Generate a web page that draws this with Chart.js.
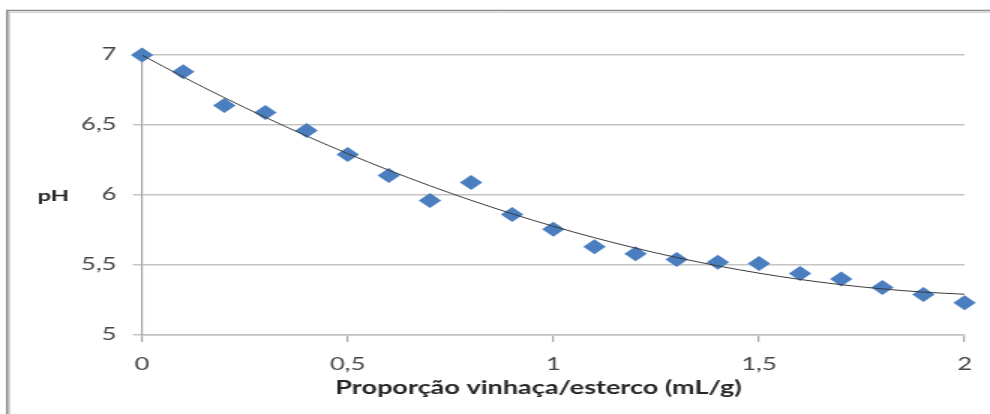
<!DOCTYPE html>
<html>
<head>
<meta charset="utf-8">
<script src="https://cdn.jsdelivr.net/npm/chart.js@4/dist/chart.umd.min.js"></script>
<style>
  html, body { margin: 0; padding: 0; background: #fff; overflow: hidden; }
  #wrap { position: absolute; left: 0; top: 0; width: 660px; height: 414px; transform: scaleX(1.5); transform-origin: 0 0; }
</style>
</head>
<body>
<div id="wrap"><canvas id="c"></canvas></div>
<script>
// ---- data ----
const xValues = [0, 0.1, 0.2, 0.3, 0.4, 0.5, 0.6, 0.7, 0.8, 0.9, 1.0, 1.1, 1.2, 1.3, 1.4, 1.5, 1.6, 1.7, 1.8, 1.9, 2.0];
const phValues = [7.00, 6.88, 6.64, 6.59, 6.46, 6.29, 6.14, 5.96, 6.09, 5.86, 5.755, 5.63, 5.58, 5.54, 5.52, 5.51, 5.44, 5.40, 5.34, 5.29, 5.23];
const yTickLabels = ['5', '5,5', '6', '6,5', '7'];
const xTickLabels = ['0', '0,5', '1', '1,5', '2'];
const yTitle = 'pH';
const xTitle = 'Proporção vinhaça/esterco (mL/g)';

// second-order polynomial trendline (least squares) from the data
function quadFit(xs, ys) {
  let S = [0,0,0,0,0], T = [0,0,0];
  for (let i = 0; i < xs.length; i++) {
    let p = 1;
    for (let k = 0; k < 5; k++) { S[k] += p; if (k < 3) T[k] += p * ys[i]; p *= xs[i]; }
  }
  const A = [[S[0],S[1],S[2],T[0]],[S[1],S[2],S[3],T[1]],[S[2],S[3],S[4],T[2]]];
  for (let i = 0; i < 3; i++) {
    for (let j = i + 1; j < 3; j++) {
      const f = A[j][i] / A[i][i];
      for (let k = i; k < 4; k++) A[j][k] -= f * A[i][k];
    }
  }
  const c = [0,0,0];
  for (let i = 2; i >= 0; i--) {
    let s = A[i][3];
    for (let k = i + 1; k < 3; k++) s -= A[i][k] * c[k];
    c[i] = s / A[i][i];
  }
  return c;
}
const coef = quadFit(xValues, phValues);
const trend = xValues.map(x => ({ x: x, y: coef[0] + coef[1] * x + coef[2] * x * x }));
const points = xValues.map((x, i) => ({ x: x, y: phValues[i] }));

const FONT = 'Lato, "Open Sans", sans-serif';

const framePlugin = {
  id: 'frame',
  beforeDraw(chart) {
    const ctx = chart.ctx;
    ctx.save();
    ctx.strokeStyle = '#8c8c8c';
    ctx.lineWidth = 1.6;
    ctx.beginPath();
    ctx.moveTo(4.8, 414);
    ctx.lineTo(4.8, 10.5);
    ctx.lineTo(660, 10.5);
    ctx.stroke();
    ctx.strokeStyle = '#d6d6d6';
    ctx.lineWidth = 1;
    ctx.beginPath();
    ctx.moveTo(6.5, 414);
    ctx.lineTo(6.5, 12.5);
    ctx.lineTo(660, 12.5);
    ctx.stroke();
    ctx.restore();
  },
  afterDraw(chart) {
    const ctx = chart.ctx;
    ctx.save();
    ctx.fillStyle = '#262626';
    ctx.font = 'bold 16px ' + FONT;
    ctx.textBaseline = 'middle';
    ctx.textAlign = 'left';
    ctx.fillText(yTitle, 25, 196);
    ctx.font = 'bold 18px ' + FONT;
    ctx.textAlign = 'center';
    ctx.fillText(xTitle, 359, 388);
    ctx.restore();
  }
};

new Chart(document.getElementById('c'), {
  type: 'scatter',
  data: {
    datasets: [
      {
        label: 'trend',
        type: 'line',
        data: trend,
        borderColor: '#3a3a3a',
        borderWidth: 1,
        pointRadius: 0,
        cubicInterpolationMode: 'monotone',
        fill: false
      },
      {
        label: 'pH',
        data: points,
        clip: false,
        pointStyle: 'rectRot',
        pointRadius: 7.5,
        pointHoverRadius: 7.5,
        backgroundColor: '#4a7ebf',
        borderColor: '#4a7ebf',
        borderWidth: 0
      }
    ]
  },
  options: {
    responsive: true,
    maintainAspectRatio: false,
    animation: false,
    layout: { padding: { left: 0, right: 15.3, top: 55, bottom: 0 } },
    plugins: { legend: { display: false }, tooltip: { enabled: false }, title: { display: false } },
    scales: {
      x: {
        type: 'linear',
        min: 0, max: 2,
        afterFit(s) { s.height = 79; },
        ticks: {
          stepSize: 0.5,
          color: '#454545',
          font: { family: FONT, size: 17 },
          padding: 12,
          maxRotation: 0,
          callback: (v, i) => xTickLabels[i]
        },
        grid: { drawOnChartArea: false, drawTicks: true, tickLength: 7, color: '#a6a6a6', lineWidth: 1.2 },
        border: { display: true, color: '#c0c0c0', width: 1.5 }
      },
      y: {
        type: 'linear',
        min: 5, max: 7,
        afterFit(s) { s.width = 94.7; },
        ticks: {
          stepSize: 0.5,
          color: '#454545',
          font: { family: FONT, size: 17 },
          padding: 11,
          callback: (v, i) => yTickLabels[i]
        },
        grid: { color: '#c4c4c4', lineWidth: 1.5, drawTicks: true, tickLength: 6 },
        border: { display: true, color: '#a6a6a6', width: 1.2 }
      }
    }
  },
  plugins: [framePlugin]
});
</script>
</body>
</html>
